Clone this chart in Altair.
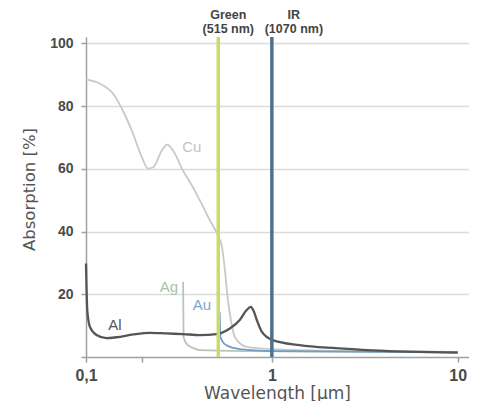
import altair as alt
import pandas as pd

# ---- data ----
CU_X = [0.1, 0.119, 0.14, 0.158, 0.179, 0.2, 0.215, 0.229, 0.256, 0.273, 0.294, 0.332,
        0.376, 0.41, 0.464, 0.506, 0.539, 0.559, 0.58, 0.602, 0.632, 0.734, 1.0, 2.6, 10]
CU_Y = [88.4, 87.1, 83.9, 78.5, 71.2, 63.6, 60.1, 60.4, 65.8, 67.7, 65.8, 59.5,
        54.1, 49.9, 43.6, 39.4, 35.0, 27.7, 18.1, 11.8, 6.4, 3.2, 2.5, 1.9, 1.6]

AG_X = [0.333, 0.335, 0.35, 0.376, 0.41, 0.7, 10]
AG_Y = [24.0, 6.4, 4.0, 2.9, 2.2, 1.9, 1.6]

AU_X = [0.524, 0.529, 0.567, 0.672, 1.0, 10]
AU_Y = [14.3, 6.4, 3.8, 2.5, 1.9, 1.5]

AL_X = [0.1, 0.1016, 0.105, 0.114, 0.129, 0.146, 0.18, 0.221, 0.271, 0.333, 0.41, 0.504,
        0.594, 0.672, 0.73, 0.77, 0.80, 0.83, 0.884, 1.01, 1.41, 2.2, 3.48, 10]
AL_Y = [29.8, 14.9, 9.6, 7.0, 6.0, 6.3, 7.2, 7.7, 7.5, 7.3, 7.0, 7.3,
        9.1, 11.8, 14.9, 16.0, 14.5, 11.8, 8.0, 5.4, 3.8, 2.8, 2.1, 1.4]

METALS = ["Cu", "Ag", "Au", "Al"]
METAL_COLORS = ["#c9c9c9", "#b9c6b5", "#6f9dc6", "#555555"]
LABEL_COLORS = ["#c4c4c4", "#a9c3a2", "#7ca6cc", "#555555"]
LABEL_X = [0.371, 0.279, 0.420, 0.143]
LABEL_Y = [66.8, 22.3, 16.5, 10.2]

LASER_NAMES = ["Green", "IR"]
LASER_SUB = ["(515 nm)", "(1070 nm)"]
LASER_POS = [0.515, 1.0]
LASER_COLORS = ["#c9dc6b", "#4f7189"]

X_TICKS = [0.1, 0.2, 1, 10]
Y_TICKS = [0, 10, 20, 30, 40, 50, 60, 70, 80, 90, 100]

rows = []
for name, xs, ys in [("Cu", CU_X, CU_Y), ("Ag", AG_X, AG_Y), ("Au", AU_X, AU_Y), ("Al", AL_X, AL_Y)]:
    for xv, yv in zip(xs, ys):
        rows.append({"metal": name, "x": xv, "y": yv})
curves = pd.DataFrame(rows)

labels = pd.DataFrame({"metal": METALS, "x": LABEL_X, "y": LABEL_Y})
lasers = pd.DataFrame({"name": LASER_NAMES, "sub": LASER_SUB, "x": LASER_POS})

xscale = alt.Scale(type="log", domain=[0.1, 11.5], nice=False)
yscale = alt.Scale(domain=[0, 102], nice=False, zero=False)
cscale = alt.Scale(domain=METALS, range=METAL_COLORS)
lscale = alt.Scale(domain=METALS, range=LABEL_COLORS)
rscale = alt.Scale(domain=LASER_NAMES, range=LASER_COLORS)

x_axis = alt.Axis(
    values=X_TICKS, grid=False, title="Wavelength [µm]",
    labelExpr="datum.value == 0.2 ? '' : replace(format(datum.value, '~g'), '.', ',')",
    labelFont="Liberation Sans", labelFontSize=16, labelFontWeight="bold", labelColor="#4a4a4a",
    labelPadding=5, tickSize=5, tickColor="#a0a0a0", tickWidth=1.5,
    domainColor="#a0a0a0", domainWidth=1.5, labelFlush=False,
    titleFont="DejaVu Sans", titleFontSize=17, titleFontWeight="normal", titleColor="#555555",
    titleX=191, titleY=41, titleBaseline="alphabetic", titleAlign="center",
)
y_axis = alt.Axis(
    values=Y_TICKS, title="Absorption [%]",
    labelExpr="datum.value % 20 == 0 && datum.value > 0 ? datum.label : ''",
    labelFont="Liberation Sans", labelFontSize=14, labelFontWeight="bold", labelColor="#4a4a4a",
    labelPadding=8, tickSize=5, tickColor="#a0a0a0", tickWidth=1.5,
    domainColor="#a0a0a0", domainWidth=1.5,
    grid=True, gridColor="#dcdcdc", gridWidth=1.5,
    gridOpacity={"condition": {"test": "datum.value % 20 == 0 && datum.value > 0", "value": 1}, "value": 0},
    titleFont="DejaVu Sans", titleFontSize=16.5, titleFontWeight="normal", titleColor="#555555",
    titleX=-52, titleY=152, titleBaseline="alphabetic", titleAlign="center", titleAngle=270,
)

lines = alt.Chart(curves).mark_line(interpolate="monotone").encode(
    x=alt.X("x:Q", scale=xscale, axis=x_axis),
    y=alt.Y("y:Q", scale=yscale, axis=y_axis),
    color=alt.Color("metal:N", scale=cscale, legend=None),
    strokeWidth=alt.condition("datum.metal == 'Al'", alt.value(2.3), alt.value(1.8)),
    detail="metal:N",
)

rules = alt.Chart(lasers).mark_rule(strokeWidth=3.5).encode(
    x=alt.X("x:Q", scale=xscale),
    y=alt.datum(0),
    y2=alt.datum(102),
    color=alt.Color("name:N", scale=rscale, legend=None),
)

metal_text = alt.Chart(labels).mark_text(
    font="Liberation Sans", fontSize=15, align="center", baseline="middle"
).encode(
    x=alt.X("x:Q", scale=xscale),
    y=alt.Y("y:Q", scale=yscale),
    text="metal:N",
    color=alt.Color("metal:N", scale=lscale, legend=None),
)

top_common = dict(font="Liberation Sans", fontSize=12.5, fontWeight="bold", color="#444444",
                  align="center", baseline="middle")
green_t = alt.Chart(lasers[lasers["name"] == "Green"]).encode(x=alt.X("x:Q", scale=xscale))
ir_t = alt.Chart(lasers[lasers["name"] == "IR"]).encode(x=alt.X("x:Q", scale=xscale))

g1 = green_t.mark_text(dx=10, **top_common).encode(y=alt.datum(109.0), text="name:N")
g2 = green_t.mark_text(dx=10, **top_common).encode(y=alt.datum(104.4), text="sub:N")
i1 = ir_t.mark_text(dx=22, **top_common).encode(y=alt.datum(109.0), text="name:N")
i2 = ir_t.mark_text(dx=22, **top_common).encode(y=alt.datum(104.4), text="sub:N")

chart = alt.layer(lines, metal_text, rules, g1, g2, i1, i2).resolve_scale(color="independent").properties(
    width=383, height=320,
    autosize=alt.AutoSizeParams(type="none"),
    padding={"left": 78, "top": 29, "right": 0, "bottom": 44},
    background="white",
).configure_view(stroke=None)

chart.save("out.html", embed_options={"renderer": "svg", "actions": False})
